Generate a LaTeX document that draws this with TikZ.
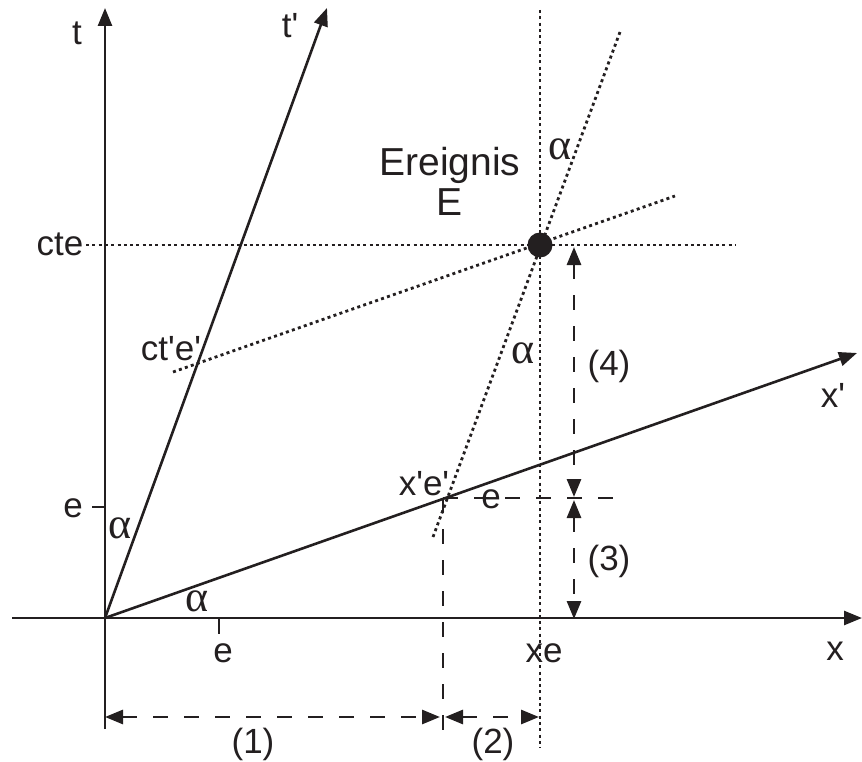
\documentclass[tikz,border=0pt]{standalone}
\usepackage{fontspec}
\setmainfont{Liberation Sans}[Ligatures=TeXOff]
\newfontfamily\greekfont{Liberation Serif}[Ligatures=TeXOff]
\usetikzlibrary{arrows.meta}
\definecolor{ink}{RGB}{35,31,32}
\begin{document}
\begin{tikzpicture}[x=1pt,y=-1pt, color=ink,
  >={Triangle[length=18pt,width=14pt]},
  ax/.style={line width=2.6pt},
  dotline/.style={line width=2.8pt, dash pattern=on 3pt off 3.3pt},
  dashline/.style={line width=2.8pt, dash pattern=on 15pt off 16pt},
  lab/.style={font=\fontsize{35}{40}\selectfont, inner sep=0pt, anchor=base},
  big/.style={font=\fontsize{39}{44}\selectfont, inner sep=0pt, anchor=base},
  alab/.style={font=\greekfont\fontsize{44}{48}\selectfont, inner sep=0pt, anchor=base},
  dot/.style={circle, fill=ink, draw=none, minimum size=25pt, inner sep=0pt}
]
\useasboundingbox (0,0) rectangle (862,762);
% coordinates
\coordinate (O) at (105,618);
\coordinate (tTop) at (105,8);
\coordinate (tBot) at (105,729);
\coordinate (xL) at (12,618);
\coordinate (xR) at (862,618);
\coordinate (tpTop) at (327,8);
\coordinate (xpTip) at (857,353);
\coordinate (vTop) at (540,10);
\coordinate (vBot) at (540,748);
\coordinate (hL) at (86,245);
\coordinate (hR) at (735,245);
\coordinate (pL) at (173,372);
\coordinate (pR) at (675,196);
\coordinate (qTop) at (620,32);
\coordinate (qBot) at (433,537);
\coordinate (XE) at (443,498);
\coordinate (eR) at (620,498);
\coordinate (dBot) at (443,737);
\coordinate (et1) at (92,507);
\coordinate (et2) at (105,507);
\coordinate (ex1) at (219,618);
\coordinate (ex2) at (219,634);
\coordinate (a1L) at (105,717);
\coordinate (a1R) at (440,717);
\coordinate (a2L) at (445,717);
\coordinate (a2R) at (539,717);
\coordinate (a3T) at (574,500);
\coordinate (a3B) at (574,619);
\coordinate (a4T) at (574,247);
\coordinate (a4B) at (574,497);
% dotted construction lines
\draw[dotline] (vTop) -- (vBot);
\draw[dotline] (hL) -- (hR);
\draw[dotline] (pL) -- (pR);
\draw[dotline] (qBot) -- (qTop);
% axes
\draw[ax,->] (tBot) -- (tTop);
\draw[ax,->] (xL) -- (xR);
\draw[ax,->] (O) -- (tpTop);
\draw[ax,->] (O) -- (xpTip);
\draw[ax] (et1) -- (et2);
\draw[ax] (ex1) -- (ex2);
% dashed
\draw[dashline] (XE) -- (eR);
\draw[dashline] (XE) -- (dBot);
\draw[dashline,<->] (a1L) -- (a1R);
\draw[dashline,<->] (a2L) -- (a2R);
\draw[dashline,<->] (a3T) -- (a3B);
\draw[dashline,<->] (a4T) -- (a4B);
% event
\node[dot] (E) at (540,245) {};
% labels
\node[lab] (lt) at (77,45) {t};
\node[lab] (ltp) at (290,38) {t'};
\node[lab] (lx) at (835,660) {x};
\node[lab] (lxp) at (833,407) {x'};
\node[lab] (lcte) at (60,255) {cte};
\node[lab] (lctep) at (171,360) {ct'e'};
\node[lab] (lxep) at (424,495) {x'e'};
\node[lab] (lee) at (491,508) {e};
\node[lab] (let) at (73,517) {e};
\node[lab] (lex) at (223,662) {e};
\node[lab] (lxe) at (544,662) {xe};
\node[big] (lev1) at (450,176) {Ereignis};
\node[big] (lev2) at (450,215) {E};
\node[lab] (l1) at (253,753) {(1)};
\node[lab] (l2) at (493,753) {(2)};
\node[lab] (l3) at (609,570) {(3)};
\node[lab] (l4) at (609,375) {(4)};
\node[alab] (al1) at (120,538) {α};
\node[alab] (al2) at (197,611) {α};
\node[alab] (al3) at (560,160) {α};
\node[alab] (al4) at (523,363) {α};
\end{tikzpicture}
\end{document}
